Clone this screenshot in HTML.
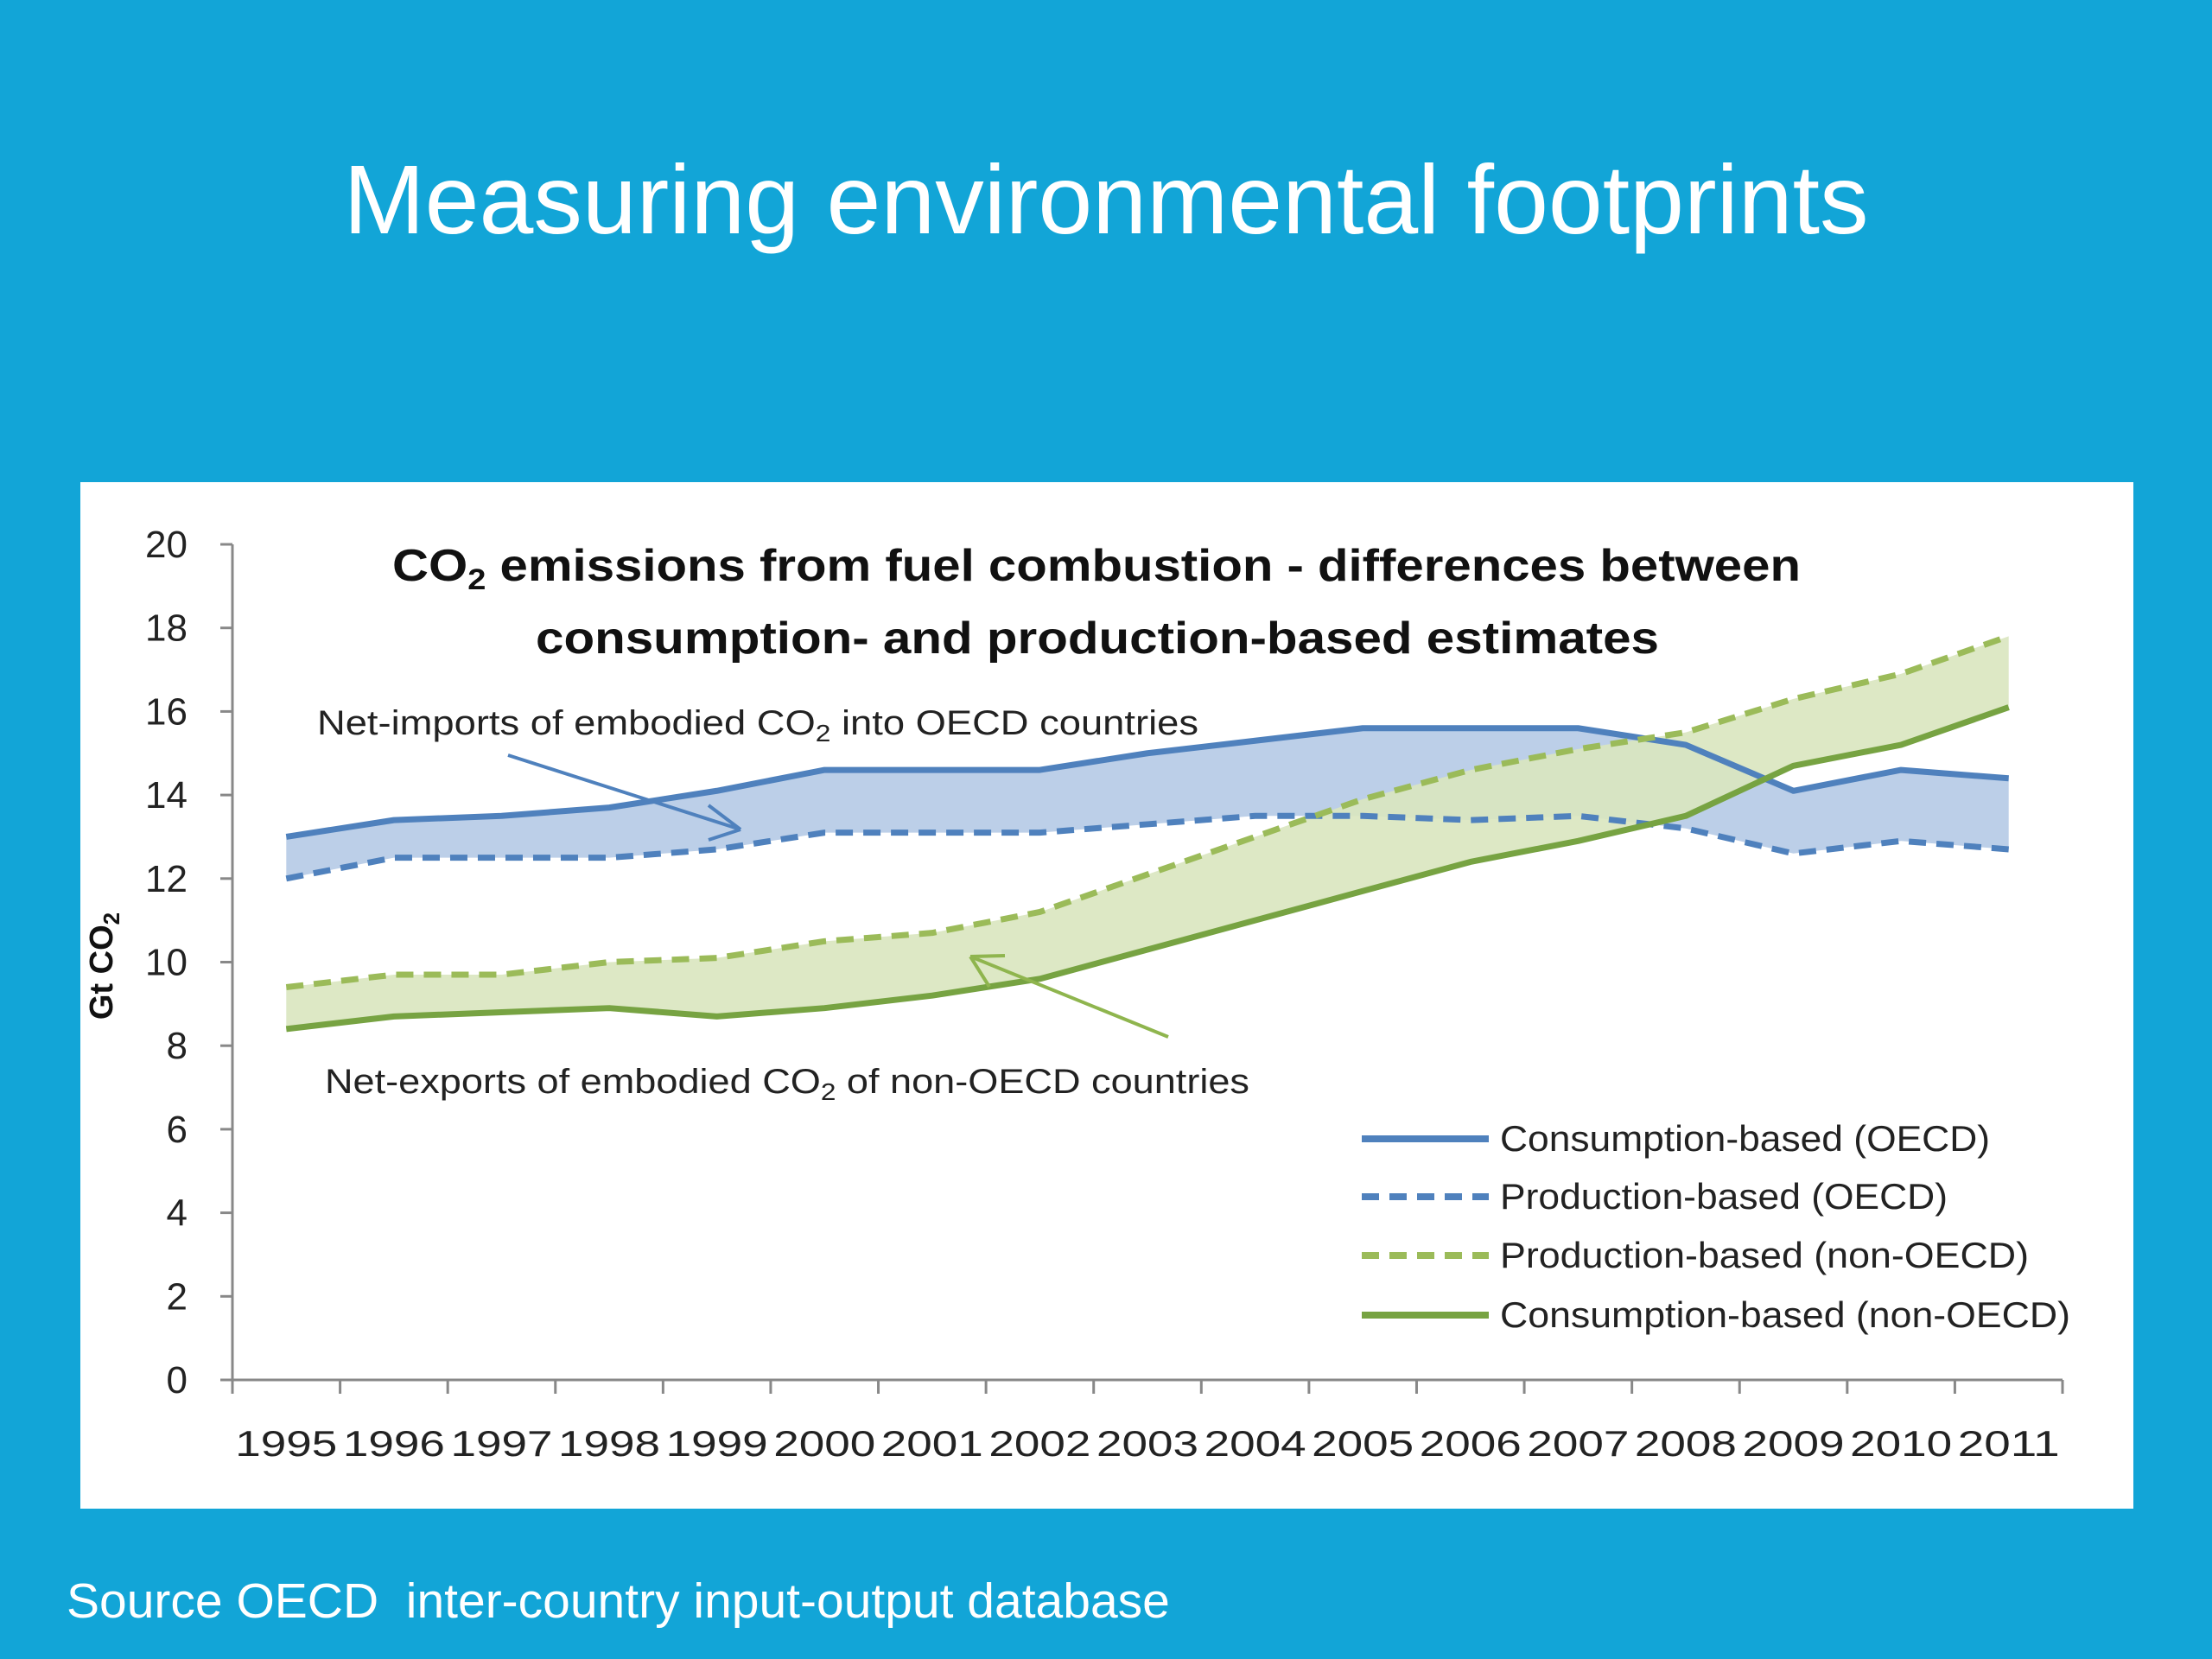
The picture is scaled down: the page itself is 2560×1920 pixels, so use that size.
<!DOCTYPE html>
<html><head><meta charset="utf-8"><style>
html,body{margin:0;padding:0;width:2560px;height:1920px;overflow:hidden;background:#12a5d7;font-family:"Liberation Sans",sans-serif}
#title{position:absolute;left:0;top:166px;width:2560px;text-align:center;color:#fff;font-size:113px;line-height:130px}
#source{position:absolute;left:77px;top:1820px;color:#fff;font-size:57px}
#panel{position:absolute;left:93px;top:558px;width:2376px;height:1188px;background:#fff}
svg{position:absolute;left:0;top:0}
</style></head><body>
<div id="title">Measuring environmental footprints</div>
<div id="panel"></div>
<div id="source">Source OECD&nbsp; inter-country input-output database</div>
<svg id="chart" width="2560" height="1920"></svg>
<script>
const years=["1995","1996","1997","1998","1999","2000","2001","2002","2003","2004","2005","2006","2007","2008","2009","2010","2011"];
const consOECD=[13.0,13.4,13.5,13.7,14.1,14.6,14.6,14.6,15.0,15.3,15.6,15.6,15.6,15.2,14.1,14.6,14.4];
const prodOECD=[12.0,12.5,12.5,12.5,12.7,13.1,13.1,13.1,13.3,13.5,13.5,13.4,13.5,13.2,12.6,12.9,12.7];
const prodNon=[9.4,9.7,9.7,10.0,10.1,10.5,10.7,11.2,12.1,13.0,13.9,14.6,15.1,15.5,16.3,16.9,17.8];
const consNon=[8.4,8.7,8.8,8.9,8.7,8.9,9.2,9.6,10.3,11.0,11.7,12.4,12.9,13.5,14.7,15.2,16.1];
const yTicks=[0,2,4,6,8,10,12,14,16,18,20];
const NS="http://www.w3.org/2000/svg";
const svg=document.getElementById('chart');
const X0=269,X1=2387,Y0=1597,Y20=630;
const cw=(X1-X0)/years.length;
const xs=i=>X0+cw*(i+0.5);
const ys=v=>Y0-(v/20)*(Y0-Y20);
function mk(tag,attrs,txt){const e=document.createElementNS(NS,tag);for(const k in attrs)e.setAttribute(k,attrs[k]);if(txt!==undefined)e.textContent=txt;svg.appendChild(e);return e;}
function pts(a){return a.map((v,i)=>xs(i)+','+ys(v)).join(' ');}
function rpts(a){return a.map((v,j)=>{const i=a.length-1-j;return xs(i)+','+ys(a[i]);}).join(' ');}
let e=mk('polygon',{points:pts(consOECD)+' '+rpts(prodOECD),fill:'#bccfe8'});


e=mk('polygon',{points:pts(prodNon)+' '+rpts(consNon),fill:'#d9e6bf','fill-opacity':0.9});


e=mk('line',{x1:X0,y1:Y20,x2:X0,y2:Y0,stroke:'#888','stroke-width':3});


e=mk('line',{x1:X0,y1:Y0,x2:X1,y2:Y0,stroke:'#888','stroke-width':3});


yTicks.forEach(t=>{
 let l=mk('line',{x1:X0-14,y1:ys(t),x2:X0,y2:ys(t),stroke:'#888','stroke-width':3});
 
 
 let tx=mk('text',{x:217,y:ys(t)+15,'text-anchor':'end','font-size':44,fill:'#222'},t);
 
 
});
for(let i=0;i<=years.length;i++){
 let l=mk('line',{x1:X0+cw*i,y1:Y0,x2:X0+cw*i,y2:Y0+16,stroke:'#888','stroke-width':3});
 
 
}
years.forEach((y,i)=>{
 let tx=mk('text',{x:xs(i),y:1685,'text-anchor':'middle','font-size':42,fill:'#222',textLength:118,lengthAdjust:'spacingAndGlyphs'},y);
 
 
});
function line(a,col,dash,name){let p=mk('polyline',{points:pts(a),fill:'none',stroke:col,'stroke-width':7,'stroke-dasharray':dash,'stroke-linejoin':'round'});}
line(consOECD,'#4f81bd','none','line-consumption-oecd');
line(prodOECD,'#4f81bd','20 12','line-production-oecd');
line(prodNon,'#9bbb59','20 12','line-production-non-oecd');
line(consNon,'#77a342','none','line-consumption-non-oecd');
e=mk('text',{x:0,y:0,transform:'translate(130,1118) rotate(-90)','text-anchor':'middle','font-size':38,'font-weight':'bold',fill:'#111'},'Gt CO');


let sub=document.createElementNS(NS,'tspan');sub.setAttribute('font-size',26);sub.setAttribute('dy',8);sub.textContent='2';e.appendChild(sub);
e=mk('text',{x:454,y:672,'font-size':52,'font-weight':'bold',fill:'#111',textLength:1630,lengthAdjust:'spacingAndGlyphs'});


e.innerHTML='CO<tspan font-size="34" dy="10">2</tspan><tspan dy="-10"> emissions from fuel combustion - differences between</tspan>';
e=mk('text',{x:1270,y:756,'text-anchor':'middle','font-size':52,'font-weight':'bold',fill:'#111',textLength:1300,lengthAdjust:'spacingAndGlyphs'},'consumption- and production-based estimates');


e=mk('text',{x:367,y:850,'font-size':40,fill:'#222',textLength:1020,lengthAdjust:'spacingAndGlyphs'});


e.innerHTML='Net-imports of embodied CO<tspan font-size="28" dy="8">2</tspan><tspan dy="-8"> into OECD countries</tspan>';
e=mk('text',{x:376,y:1265,'font-size':40,fill:'#222',textLength:1070,lengthAdjust:'spacingAndGlyphs'});


e.innerHTML='Net-exports of embodied CO<tspan font-size="28" dy="8">2</tspan><tspan dy="-8"> of non-OECD countries</tspan>';
e=mk('path',{d:'M588 874 L857 960 M857 960 L820 932 M857 960 L820 972',stroke:'#4f81bd','stroke-width':4,fill:'none'});


e=mk('path',{d:'M1352 1200 L1123 1107 M1123 1107 L1145 1142 M1123 1107 L1163 1106',stroke:'#8fb54e','stroke-width':4,fill:'none'});


const legNames=['Consumption-based (OECD)','Production-based (OECD)','Production-based (non-OECD)','Consumption-based (non-OECD)'];
const legCols=['#4f81bd','#4f81bd','#9bbb59','#77a342'];
const legDash=['none','20 12','20 12','none'];
const legY=[1318,1385,1453,1522];
const legW=[567,518,612,660];
legNames.forEach((n,i)=>{
 let l=mk('line',{x1:1576,y1:legY[i],x2:1723,y2:legY[i],stroke:legCols[i],'stroke-width':8,'stroke-dasharray':legDash[i]});
 
 
 let t=mk('text',{x:1736,y:legY[i]+14,'font-size':42,fill:'#222',textLength:legW[i],lengthAdjust:'spacingAndGlyphs'},n);
 
 
});
</script>
</body></html>
